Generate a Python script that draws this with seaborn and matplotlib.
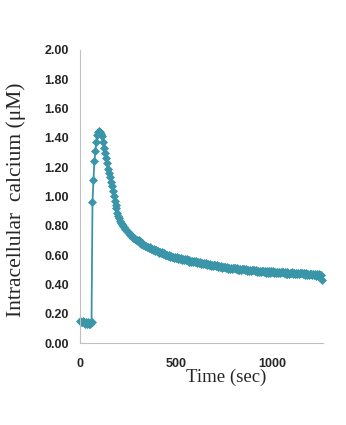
import matplotlib
matplotlib.use("Agg")
import matplotlib.pyplot as plt
import seaborn as sns
import numpy as np
import pandas as pd

# ---- data ----
t_base = [0, 5, 10, 15, 20, 25, 30, 35, 40, 45, 50, 55, 60]
v_base = [0.15, 0.14, 0.14, 0.15, 0.14, 0.13, 0.14, 0.13, 0.14, 0.13, 0.13, 0.14, 0.14]

t_rise = [65, 70, 75, 80, 85, 90, 95, 100, 105, 110]
v_rise = [0.96, 1.11, 1.24, 1.31, 1.37, 1.42, 1.44, 1.45, 1.44, 1.43]

t_fast = [115, 120, 125, 130, 135, 140, 145, 150, 155, 160, 165, 170, 175, 180,
          185, 190, 195, 200, 205, 210, 215, 220, 225, 230, 235, 240, 245, 250,
          255, 260, 265, 270, 275, 280, 285, 290, 295, 300]
v_fast = [1.41, 1.37, 1.33, 1.30, 1.26, 1.23, 1.19, 1.16, 1.13, 1.10, 1.07, 1.04,
          1.00, 0.97, 0.94, 0.92, 0.89, 0.87, 0.85, 0.83, 0.82, 0.81, 0.80, 0.79,
          0.78, 0.77, 0.765, 0.76, 0.75, 0.74, 0.735, 0.73, 0.72, 0.715, 0.71,
          0.705, 0.70, 0.695]

# sampled every 5 s from 305 s to 1260 s
t_slow = list(range(305, 1261, 5))
v_slow = [
    0.700, 0.684, 0.690, 0.676, 0.680, 0.668, 0.672, 0.660, 0.664, 0.655,
    0.658, 0.646, 0.652, 0.641, 0.645, 0.634, 0.640, 0.628, 0.633, 0.625,
    0.628, 0.617, 0.622, 0.612, 0.618, 0.607, 0.612, 0.601, 0.607, 0.600,
    0.604, 0.594, 0.599, 0.589, 0.595, 0.584, 0.590, 0.580, 0.587, 0.582,
    0.585, 0.575, 0.581, 0.571, 0.577, 0.567, 0.574, 0.564, 0.571, 0.567,
    0.570, 0.560, 0.566, 0.556, 0.563, 0.553, 0.560, 0.550, 0.558, 0.554,
    0.557, 0.547, 0.553, 0.543, 0.550, 0.540, 0.547, 0.537, 0.545, 0.541,
    0.545, 0.534, 0.541, 0.531, 0.538, 0.528, 0.535, 0.525, 0.533, 0.530,
    0.533, 0.523, 0.530, 0.519, 0.526, 0.516, 0.523, 0.513, 0.521, 0.518,
    0.522, 0.511, 0.518, 0.508, 0.515, 0.505, 0.513, 0.503, 0.511, 0.509,
    0.512, 0.502, 0.509, 0.499, 0.507, 0.497, 0.505, 0.496, 0.504, 0.502,
    0.506, 0.495, 0.502, 0.492, 0.500, 0.490, 0.499, 0.489, 0.498, 0.496,
    0.500, 0.489, 0.496, 0.486, 0.494, 0.484, 0.493, 0.483, 0.492, 0.490,
    0.494, 0.484, 0.491, 0.481, 0.490, 0.480, 0.489, 0.479, 0.490, 0.487,
    0.490, 0.480, 0.487, 0.477, 0.486, 0.476, 0.485, 0.475, 0.485, 0.482,
    0.486, 0.475, 0.483, 0.473, 0.482, 0.472, 0.481, 0.471, 0.481, 0.478,
    0.482, 0.471, 0.479, 0.470, 0.478, 0.468, 0.478, 0.468, 0.478, 0.475,
    0.479, 0.468, 0.476, 0.466, 0.475, 0.464, 0.474, 0.463, 0.473, 0.470,
    0.474, 0.463, 0.471, 0.461, 0.470, 0.460, 0.469, 0.459, 0.468, 0.466,
    0.462, 0.430,
]

x_ticks = [0, 500, 1000]
y_ticks = [0.0, 0.2, 0.4, 0.6, 0.8, 1.0, 1.2, 1.4, 1.6, 1.8, 2.0]

time = t_base + t_rise + t_fast + t_slow
calcium = v_base + v_rise + v_fast + v_slow
df = pd.DataFrame({"time": time, "calcium": calcium})

sns.set_style("white")
plt.rcParams["font.family"] = ["Liberation Sans", "DejaVu Sans"]

fig = plt.figure(figsize=(3.46, 4.25), dpi=100)
ax = fig.add_axes([80/346, 1 - 343/425, 243/346, 293/425])

color = "#3a95a9"
sns.lineplot(data=df, x="time", y="calcium", ax=ax, color=color, linewidth=1.3,
             marker="D", markersize=3.8, markeredgewidth=0.5,
             markeredgecolor=color, clip_on=False, sort=False)

ax.set_xlim(0, 1265)
ax.set_ylim(0, 2.0)
ax.set_xticks(x_ticks)
ax.set_yticks(y_ticks)
ax.set_yticklabels([f"{v:.2f}" for v in y_ticks])
for lab in ax.get_xticklabels() + ax.get_yticklabels():
    lab.set_fontweight("bold")
    lab.set_fontsize(9)
ax.tick_params(axis="x", direction="out", length=3, pad=8, color="#bfbfbf", width=0.8)
ax.tick_params(axis="y", direction="out", length=4, pad=4, color="#bfbfbf", width=0.8)

for s in ["top", "right"]:
    ax.spines[s].set_visible(False)
for s in ["left", "bottom"]:
    ax.spines[s].set_color("#bfbfbf")
    ax.spines[s].set_linewidth(0.8)

ax.set_xlabel("Time (sec)", family=["Liberation Serif", "DejaVu Serif"], fontsize=13.5)
ax.xaxis.set_label_coords(0.60, -0.088)
ax.set_ylabel("Intracellular  calcium (\u03bcM)", family=["Liberation Serif", "DejaVu Serif"], fontsize=15.5)
ax.yaxis.set_label_coords(-0.223, 0.49)

fig.savefig("out.png", dpi=100)
